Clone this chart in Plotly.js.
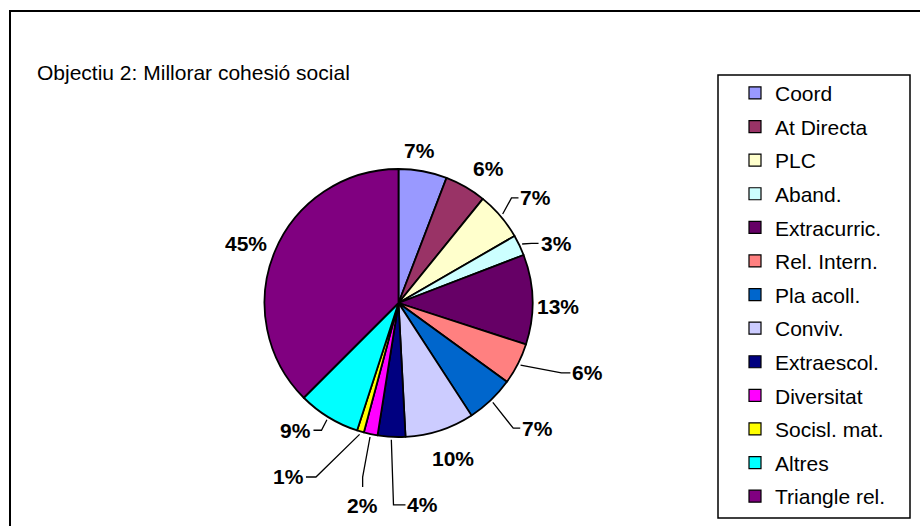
<!DOCTYPE html>
<html>
<head>
<meta charset="utf-8">
<script src="https://cdn.plot.ly/plotly-3.0.1.min.js"></script>
<style>
  html, body { margin: 0; padding: 0; background: #ffffff; }
  #chart { width: 920px; height: 526px; }
</style>
</head>
<body>
<div id="chart"></div>
<script>
// ---------------- data ----------------
const categories = ["Coord", "At Directa", "PLC", "Aband.", "Extracurric.", "Rel. Intern.",
  "Pla acoll.", "Conviv.", "Extraescol.", "Diversitat", "Socisl. mat.", "Altres", "Triangle rel."];
const values = [7, 6, 7, 3, 13, 6, 7, 10, 4, 2, 1, 9, 45];
const colors = ["#9999FF", "#993366", "#FFFFCC", "#CCFFFF", "#660066", "#FF8080",
  "#0066CC", "#CCCCFF", "#000080", "#FF00FF", "#FFFF00", "#00FFFF", "#800080"];
const titleText = "Objectiu 2: Millorar cohesió social";

// ---------------- layout helpers ----------------
const W = 920, H = 526;
const PIE_CX = 398.5, PIE_CY = 303, PIE_R = 134;
// label text offset (px) from the rim point at each slice's mid angle
const labelOffsets = [[-3, -21], [22.5, -18], [35.6, -18], [36.6, -2], [25.5, 7], [70, 9],
  [47, 28], [12.6, 28], [31.5, 68], [-8, 71], [-72, 45.5], [-32.5, 13], [-28.7, -8.4]];
// leader style: null = none, "h" = ends with a horizontal tick, "v" = ends with a vertical tick
const leaderKind = [null, null, "h", "h", null, "h", "h", null, "h", "v", "h", "h", null];
const leaderTick = [0, 0, 7, 7, 0, 9, 7, 0, 12, 10, 10, 8, 0];
const LABEL_HALF_W = 15.5, LABEL_HALF_H = 18;

const FONT = "Liberation Sans, Arial, sans-serif";
const px2x = p => p / W;
const py2y = p => 1 - p / H;

const total = values.reduce((a, b) => a + b, 0);
const annotations = [];
const leaderShapes = [];
let cum = 0;
values.forEach((v, i) => {
  const mid = (cum + v / 2) / total * 2 * Math.PI;
  cum += v;
  const s = Math.sin(mid), c = Math.cos(mid);
  const rx = PIE_CX + PIE_R * s, ry = PIE_CY - PIE_R * c;
  const lx = rx + labelOffsets[i][0], ly = ry + labelOffsets[i][1];
  annotations.push({
    xref: "paper", yref: "paper",
    x: px2x(lx), y: py2y(ly),
    xanchor: "center", yanchor: "middle",
    text: v + "%",
    showarrow: false,
    font: { family: FONT, size: 21, color: "#000000", weight: "bold" }
  });
  if (leaderKind[i]) {
    const sx = PIE_CX + (PIE_R + 3) * s, sy = PIE_CY - (PIE_R + 3) * c;
    let ex, ey, bx, by;
    if (leaderKind[i] === "h") {
      const dir = lx > sx ? 1 : -1;
      ex = lx - dir * (LABEL_HALF_W + 2); ey = ly;
      bx = ex - dir * leaderTick[i]; by = ey;
    } else {
      ex = lx; ey = ly - LABEL_HALF_H;
      bx = ex; by = ey - leaderTick[i];
    }
    leaderShapes.push({
      type: "path", xref: "paper", yref: "paper",
      path: "M" + px2x(sx) + "," + py2y(sy) + " L" + px2x(bx) + "," + py2y(by) + " L" + px2x(ex) + "," + py2y(ey),
      line: { color: "#000000", width: 1.3 }
    });
  }
});

const pieTrace = {
  type: "pie",
  labels: categories,
  values: values,
  sort: false,
  direction: "clockwise",
  rotation: 0,
  marker: { colors: colors, line: { color: "#000000", width: 1.8 } },
  textinfo: "none",
  hoverinfo: "none",
  showlegend: false,
  domain: {
    x: [px2x(PIE_CX - PIE_R), px2x(PIE_CX + PIE_R)],
    y: [py2y(PIE_CY + PIE_R), py2y(PIE_CY - PIE_R)]
  }
};

// legend entries (one per category) using the same categories / colours
const legendTraces = categories.map((c, i) => ({
  type: "scatter",
  mode: "markers",
  x: [null], y: [null],
  name: c,
  legendgroup: "g" + i,
  showlegend: true,
  hoverinfo: "none",
  marker: { symbol: "square", size: 12, color: colors[i], line: { color: "#000000", width: 1.2 } }
}));

const layout = {
  width: W, height: H,
  margin: { l: 0, r: 0, t: 0, b: 0 },
  paper_bgcolor: "#ffffff",
  plot_bgcolor: "rgba(0,0,0,0)",
  xaxis: { visible: false, range: [0, 1] },
  yaxis: { visible: false, range: [0, 1] },
  title: {
    text: titleText,
    xref: "paper", yref: "paper",
    x: px2x(37), xanchor: "left",
    y: py2y(73), yanchor: "middle",
    font: { family: FONT, size: 21, color: "#000000" }
  },
  showlegend: true,
  legend: {
    x: px2x(735), xanchor: "left",
    y: py2y(72.8), yanchor: "top",
    traceorder: "grouped",
    tracegroupgap: 3.3,
    bgcolor: "rgba(0,0,0,0)",
    borderwidth: 0,
    font: { family: FONT, size: 21, color: "#000000" }
  },
  annotations: annotations,
  shapes: [
    { type: "rect", xref: "paper", yref: "paper", x0: px2x(10), x1: px2x(940), y0: py2y(560), y1: py2y(11),
      line: { color: "#000000", width: 2 }, fillcolor: "rgba(0,0,0,0)" },
    { type: "rect", xref: "paper", yref: "paper", x0: px2x(718), x1: px2x(910), y0: py2y(518), y1: py2y(75),
      line: { color: "#000000", width: 1.5 }, fillcolor: "rgba(0,0,0,0)" }
  ].concat(leaderShapes)
};

Plotly.newPlot("chart", [pieTrace].concat(legendTraces), layout, { staticPlot: true, displayModeBar: false });
</script>
</body>
</html>
